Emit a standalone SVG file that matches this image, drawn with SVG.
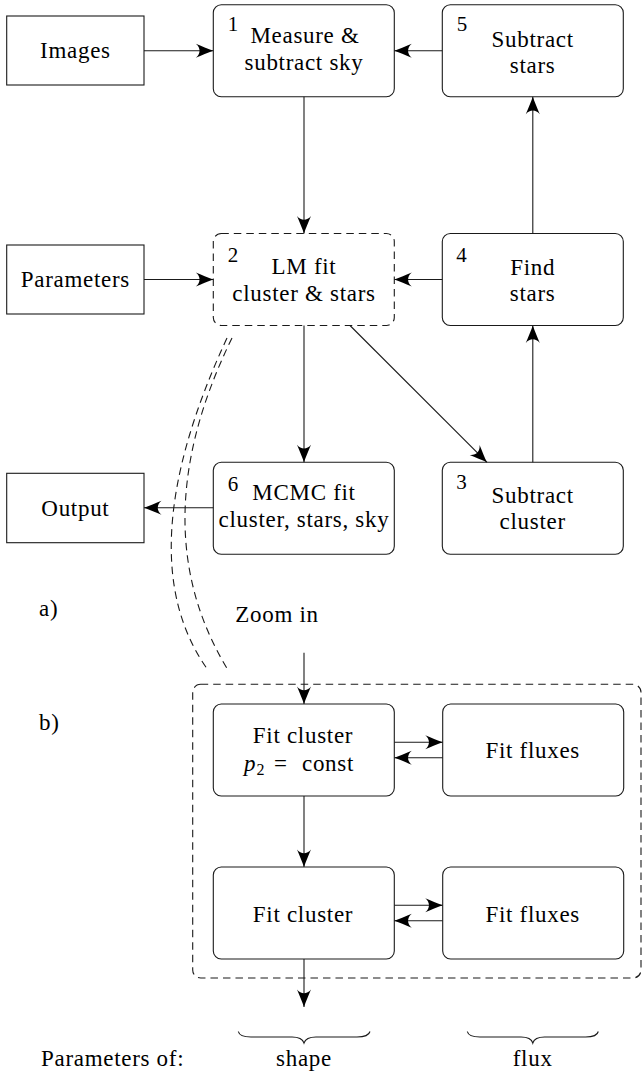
<svg xmlns="http://www.w3.org/2000/svg" width="643" height="1077" viewBox="0 0 643 1077">
<defs>
<style>
.box{fill:none;stroke:#1a1a1a;stroke-width:1.1}
.dash{stroke-dasharray:7.5 5}
.ln{fill:none;stroke:#1a1a1a;stroke-width:1.1}
.arr{marker-end:url(#ah)}
text{font-family:"Liberation Serif","DejaVu Serif","Noto Serif",serif}
.t{font-size:23px;letter-spacing:0.7px;fill:#000;text-anchor:middle}
.n{font-size:21px;letter-spacing:0}
.s{text-anchor:start}
</style>
<marker id="ah" markerUnits="userSpaceOnUse" markerWidth="20" markerHeight="16" refX="18" refY="8" orient="auto" overflow="visible">
<path d="M18,8 C13,6.4 6,3.2 0.5,1 C5.5,5 5.5,11 0.5,15 C6,12.8 13,9.6 18,8 Z" fill="#000"/>
</marker>
</defs>
<rect width="643" height="1077" fill="#fff"/>

<g id="connectors">
<line class="ln arr" x1="144" y1="50.7" x2="213.3" y2="50.7"/>
<line class="ln arr" x1="442.3" y1="50.7" x2="394.3" y2="50.7"/>
<line class="ln arr" x1="304" y1="96.7" x2="304" y2="233.5"/>
<line class="ln arr" x1="144" y1="279.5" x2="213.3" y2="279.5"/>
<line class="ln arr" x1="442.3" y1="279.5" x2="394.3" y2="279.5"/>
<line class="ln arr" x1="532.8" y1="233.5" x2="532.8" y2="96.7"/>
<line class="ln arr" x1="532.8" y1="462.3" x2="532.8" y2="325.5"/>
<line class="ln arr" x1="304" y1="325.5" x2="304" y2="462.3"/>
<line class="ln arr" x1="350" y1="325.5" x2="487" y2="462.3"/>
<line class="ln arr" x1="213.3" y1="507.8" x2="144" y2="507.8"/>
<path class="ln dash" d="M227,338 Q126,556 208,670"/>
<path class="ln dash" d="M232,338 Q140,526 228,670"/>
<line class="ln arr" x1="304" y1="652.7" x2="304" y2="704"/>
<line class="ln arr" x1="394.3" y1="742.2" x2="442.7" y2="742.2"/>
<line class="ln arr" x1="442.7" y1="757.8" x2="394.3" y2="757.8"/>
<line class="ln arr" x1="304" y1="796" x2="304" y2="867"/>
<line class="ln arr" x1="394.3" y1="905.2" x2="442.7" y2="905.2"/>
<line class="ln arr" x1="442.7" y1="920.8" x2="394.3" y2="920.8"/>
<line class="ln arr" x1="304" y1="959" x2="304" y2="1007"/>
</g>

<g id="images"><rect class="box" x="6.7" y="16" width="137.3" height="69"/><text class="t" x="75.4" y="57.5">Images</text></g>
<g id="parameters"><rect class="box" x="6.7" y="245" width="137.3" height="69"/><text class="t" x="75.4" y="287">Parameters</text></g>
<g id="output"><rect class="box" x="6.7" y="473.3" width="137.3" height="69.4"/><text class="t" x="75.4" y="515.5">Output</text></g>

<g id="step1"><rect class="box" x="213.3" y="4.7" width="181" height="92" rx="8"/>
<text class="t n" x="233" y="30.7">1</text>
<text class="t" x="305" y="43.3">Measure &amp;</text>
<text class="t" x="304" y="70">subtract sky</text></g>

<g id="step5"><rect class="box" x="442.3" y="4.7" width="181" height="92" rx="8"/>
<text class="t n" x="462" y="30.7">5</text>
<text class="t" x="532.7" y="46.5">Subtract</text>
<text class="t" x="532.7" y="73">stars</text></g>

<g id="step2"><rect class="box dash" x="213.3" y="233.5" width="181" height="92" rx="8"/>
<text class="t n" x="233" y="261.7">2</text>
<text class="t" x="304" y="274">LM fit</text>
<text class="t" x="304" y="301">cluster &amp; stars</text></g>

<g id="step4"><rect class="box" x="442.3" y="233.5" width="181" height="92" rx="8"/>
<text class="t n" x="461.5" y="261.7">4</text>
<text class="t" x="532.7" y="275">Find</text>
<text class="t" x="532.7" y="301">stars</text></g>

<g id="step6"><rect class="box" x="213.3" y="462.3" width="181" height="92" rx="8"/>
<text class="t n" x="233" y="490.5">6</text>
<text class="t" x="304" y="500">MCMC fit</text>
<text class="t" x="304" y="526.7">cluster, stars, sky</text></g>

<g id="step3"><rect class="box" x="442.3" y="462.3" width="181" height="92" rx="8"/>
<text class="t n" x="461.5" y="489.3">3</text>
<text class="t" x="532.7" y="502.7">Subtract</text>
<text class="t" x="532.7" y="529.3">cluster</text></g>

<g id="labels">
<text class="t s" x="39" y="616">a)</text>
<text class="t s" x="39" y="730">b)</text>
<text class="t" x="277" y="621.7">Zoom in</text>
</g>

<g id="zoom-container"><rect class="box dash" x="192.7" y="684.3" width="448.3" height="293.7" rx="8"/></g>

<g id="fit-cluster-const"><rect class="box" x="213.3" y="704" width="181" height="92" rx="8"/>
<text class="t" x="303" y="743.3">Fit cluster</text>
<text class="t s" y="770.7"><tspan x="244" font-style="italic">p</tspan><tspan x="256.5" dy="4" font-size="16">2</tspan><tspan x="274" dy="-4">=</tspan><tspan x="302">const</tspan></text></g>

<g id="fit-fluxes-1"><rect class="box" x="442.7" y="704" width="181" height="92" rx="8"/>
<text class="t" x="532.7" y="758.3">Fit fluxes</text></g>

<g id="fit-cluster"><rect class="box" x="213.3" y="867" width="181" height="92" rx="8"/>
<text class="t" x="303" y="921.7">Fit cluster</text></g>

<g id="fit-fluxes-2"><rect class="box" x="442.7" y="867" width="181" height="92" rx="8"/>
<text class="t" x="532.7" y="921.7">Fit fluxes</text></g>

<g id="braces">
<path class="ln" d="M238.3,1031.5 Q239.5,1037 251,1037 L292,1037 Q302,1037 304,1043 Q306,1037 316,1037 L357,1037 Q368.5,1037 370,1031.5"/>
<path class="ln" d="M467.3,1031.5 Q468.5,1037 480,1037 L521,1037 Q531,1037 532.8,1043 Q534.6,1037 544.6,1037 L585.6,1037 Q597,1037 598.3,1031.5"/>
<text class="t s" x="41" y="1066">Parameters of:</text>
<text class="t" x="304" y="1066">shape</text>
<text class="t" x="532.7" y="1066">flux</text>
</g>
</svg>
